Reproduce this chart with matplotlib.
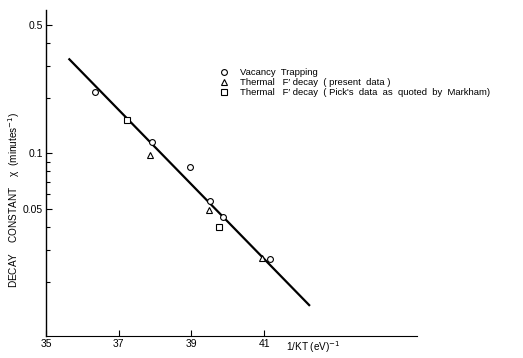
import matplotlib
matplotlib.use("Agg")
import matplotlib.pyplot as plt
from matplotlib.ticker import FixedLocator, NullFormatter
from matplotlib.lines import Line2D

plt.rcParams['font.family'] = ['Liberation Sans', 'DejaVu Sans']

# Vacancy trapping
vac_x = [36.36, 37.91, 38.95, 39.50, 39.88, 41.15]
vac_y = [0.216, 0.116, 0.0843, 0.0552, 0.0453, 0.0266]
# Thermal F' decay (present data)
fp_x = [37.87, 39.47, 40.93]
fp_y = [0.0975, 0.0494, 0.0272]
# Thermal F' decay (Pick's data as quoted by Markham)
pick_x = [37.23, 39.77]
pick_y = [0.152, 0.040]
# Fitted straight line (log scale)
fit_x = [35.62, 42.26]
fit_y = [0.328, 0.01486]

x_ticks = [35, 37, 39, 41]
y_major = [0.05, 0.1, 0.5]
y_major_labels = ["0.05", "0.1", "0.5"]
y_minor = [0.02, 0.03, 0.04, 0.06, 0.07, 0.08, 0.09, 0.2, 0.3, 0.4]

fig = plt.figure(figsize=(5.23, 3.58), dpi=100)
ax = fig.add_axes([0.088, 0.0615, 0.709, 0.91])

ax.plot(fit_x, fit_y, color='black', lw=1.6, zorder=2, solid_capstyle='butt')
mk = dict(linestyle='none', markerfacecolor='white', markeredgecolor='black',
          markeredgewidth=0.8, zorder=3)
ax.plot(vac_x, vac_y, marker='o', markersize=4.2, **mk)
ax.plot(fp_x, fp_y, marker='^', markersize=4.5, **mk)
ax.plot(pick_x, pick_y, marker='s', markersize=4.0, **mk)

ax.set_yscale('log')
ax.set_xlim(35, 45.2)
ax.set_ylim(0.0102, 0.6)

ax.spines['top'].set_visible(False)
ax.spines['right'].set_visible(False)
ax.spines['left'].set_linewidth(1.0)
ax.spines['bottom'].set_linewidth(0.8)

ax.xaxis.set_major_locator(FixedLocator(x_ticks))
ax.set_xticklabels([str(t) for t in x_ticks])
ax.yaxis.set_major_locator(FixedLocator(y_major))
ax.set_yticklabels(y_major_labels)
ax.yaxis.set_minor_locator(FixedLocator(y_minor))
ax.yaxis.set_minor_formatter(NullFormatter())
ax.tick_params(axis='both', which='major', direction='in', length=4, width=0.8,
               labelsize=7.5, pad=2)
ax.tick_params(axis='y', which='minor', direction='in', length=3, width=0.8)

fig.text(14 / 523, 1 - 200 / 358,
         "DECAY    CONSTANT    \u03c7  (minutes$^{-1}$)",
         rotation=90, ha='center', va='center', fontsize=7.2)
fig.text(313 / 523, 1 - 347 / 358, "1/KT (eV)$^{-1}$",
         ha='center', va='center', fontsize=7.2)

handles = [
    Line2D([], [], marker='o', markersize=4.2, **mk),
    Line2D([], [], marker='^', markersize=4.5, **mk),
    Line2D([], [], marker='s', markersize=4.0, **mk),
]
labels = [
    "Vacancy  Trapping",
    "Thermal   F\u2032 decay  ( present  data )",
    "Thermal   F\u2032 decay  ( Pick's  data  as  quoted  by  Markham)",
]
ax.legend(handles, labels, loc='upper left', frameon=False,
          bbox_to_anchor=(220 / 523, 1 - 68 / 358), bbox_transform=fig.transFigure,
          fontsize=6.8, handlelength=0.8, handletextpad=1.35, labelspacing=0.12,
          borderpad=0, borderaxespad=0)

fig.savefig("out.png", dpi=100)
